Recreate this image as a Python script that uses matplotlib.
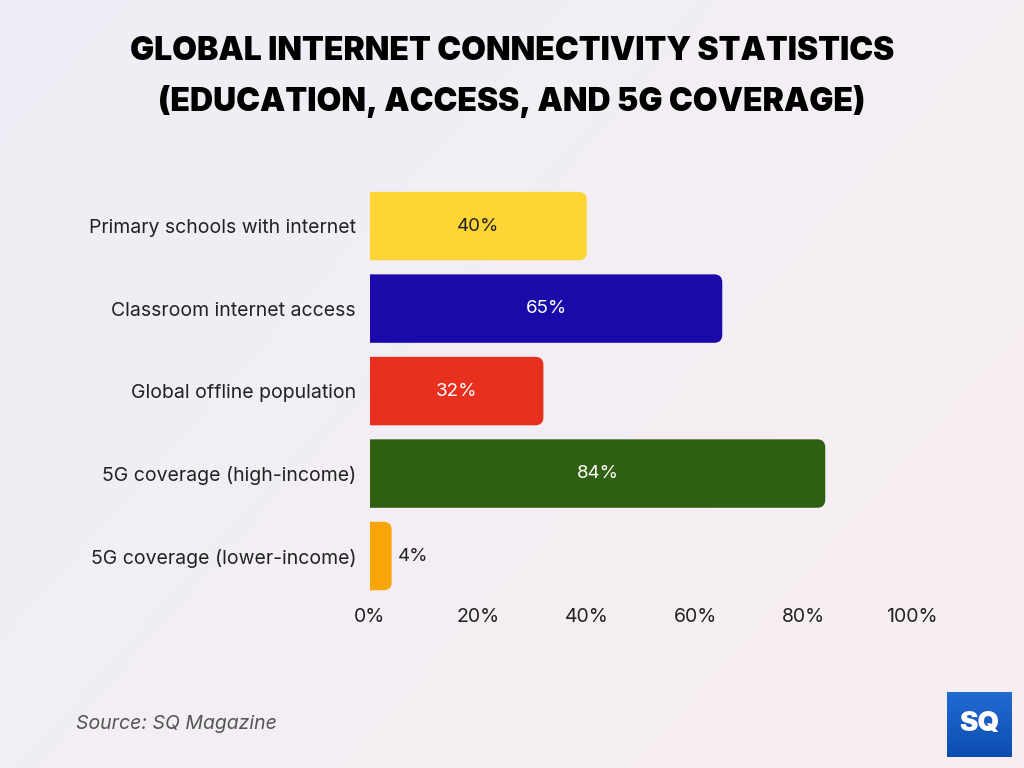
import numpy as np
import matplotlib
matplotlib.use("Agg")
import matplotlib.pyplot as plt
from matplotlib.patches import FancyBboxPatch

# data
categories = ["Primary schools with internet", "Classroom internet access",
              "Global offline population", "5G coverage (high-income)",
              "5G coverage (lower-income)"]
values = [40, 65, 32, 84, 4]
bar_colors = ["#FDD535", "#1B0AAA", "#E8301F", "#2F5F10", "#F8A50A"]
label_colors = ["#222222", "white", "white", "white", "#222222"]
xticks = [0, 20, 40, 60, 80, 100]
xtick_labels = ["0%", "20%", "40%", "60%", "80%", "100%"]

plt.rcParams['font.family'] = ['Inter', 'DejaVu Sans']

fig = plt.figure(figsize=(10.24, 7.68), dpi=100)

# background gradient
bg = fig.add_axes([0, 0, 1, 1])
gx = np.linspace(0, 1, 256)
gy = np.linspace(0, 1, 256)
X, Y = np.meshgrid(gx, gy)
c1 = np.array([0.93, 0.935, 0.965])
c2 = np.array([0.975, 0.935, 0.945])
t = np.clip(0.6 * X + 0.4 * (1 - Y), 0, 1)[..., None]
img = c1 * (1 - t) + c2 * t
bg.imshow(img, aspect='auto', extent=[0, 1, 0, 1], origin='lower')
bg.set_axis_off()

ax = fig.add_axes([0.3613, 0.2223, 0.5293, 0.537])
ax.set_xlim(0, 100)
ax.set_ylim(len(categories) - 0.5, -0.5)
ax.patch.set_alpha(0)

h = 0.83
rx = 1.5
asp = 0.065
for i, (v, c) in enumerate(zip(values, bar_colors)):
    # rounded box starting left of the axis; axes clipping squares the left end
    p = FancyBboxPatch((-3 * rx, i - h / 2), v + 3 * rx, h,
                       boxstyle="round,pad=0,rounding_size=%g" % rx,
                       mutation_aspect=asp, fc=c, ec='none', clip_on=True)
    ax.add_patch(p)
    if v >= 10:
        ax.text(v / 2, i, f"{v}%", ha='center', va='center',
                fontsize=13.5, color=label_colors[i])
    else:
        ax.text(v + 1.2, i, f"{v}%", ha='left', va='center',
                fontsize=13.5, color=label_colors[i])

ax.set_yticks(range(len(categories)))
ax.set_yticklabels(categories, fontsize=14, color='#222222')
ax.set_xticks(xticks)
ax.set_xticklabels(xtick_labels, fontsize=14, color='#222222')
ax.tick_params(length=0, pad=10, axis='y')
ax.tick_params(length=0, pad=8, axis='x')
for s in ax.spines.values():
    s.set_visible(False)

fig.text(0.5, 0.9, "GLOBAL INTERNET CONNECTIVITY STATISTICS\n(EDUCATION, ACCESS, AND 5G COVERAGE)",
         ha='center', va='center', fontsize=23, fontweight='black',
         color='black', linespacing=1.68)

fig.text(0.074, 0.057, "Source: SQ Magazine", ha='left', va='center',
         fontsize=14, style='italic', color='#555555')

# logo
lg = fig.add_axes([947 / 1024, 1 - 757 / 768, 65 / 1024, 65 / 768])
ly = np.linspace(0, 1, 64)[:, None] * np.ones((1, 64))
limg = np.stack([0.05 + 0.08 * ly, 0.30 + 0.12 * ly, 0.70 + 0.12 * ly], axis=-1)
lg.imshow(limg, aspect='auto', extent=[0, 1, 0, 1], origin='lower')
lg.text(0.5, 0.5, "SQ", ha='center', va='center', fontsize=20,
        fontweight='black', color='white')
lg.set_axis_off()

fig.savefig("out.png", dpi=100)
